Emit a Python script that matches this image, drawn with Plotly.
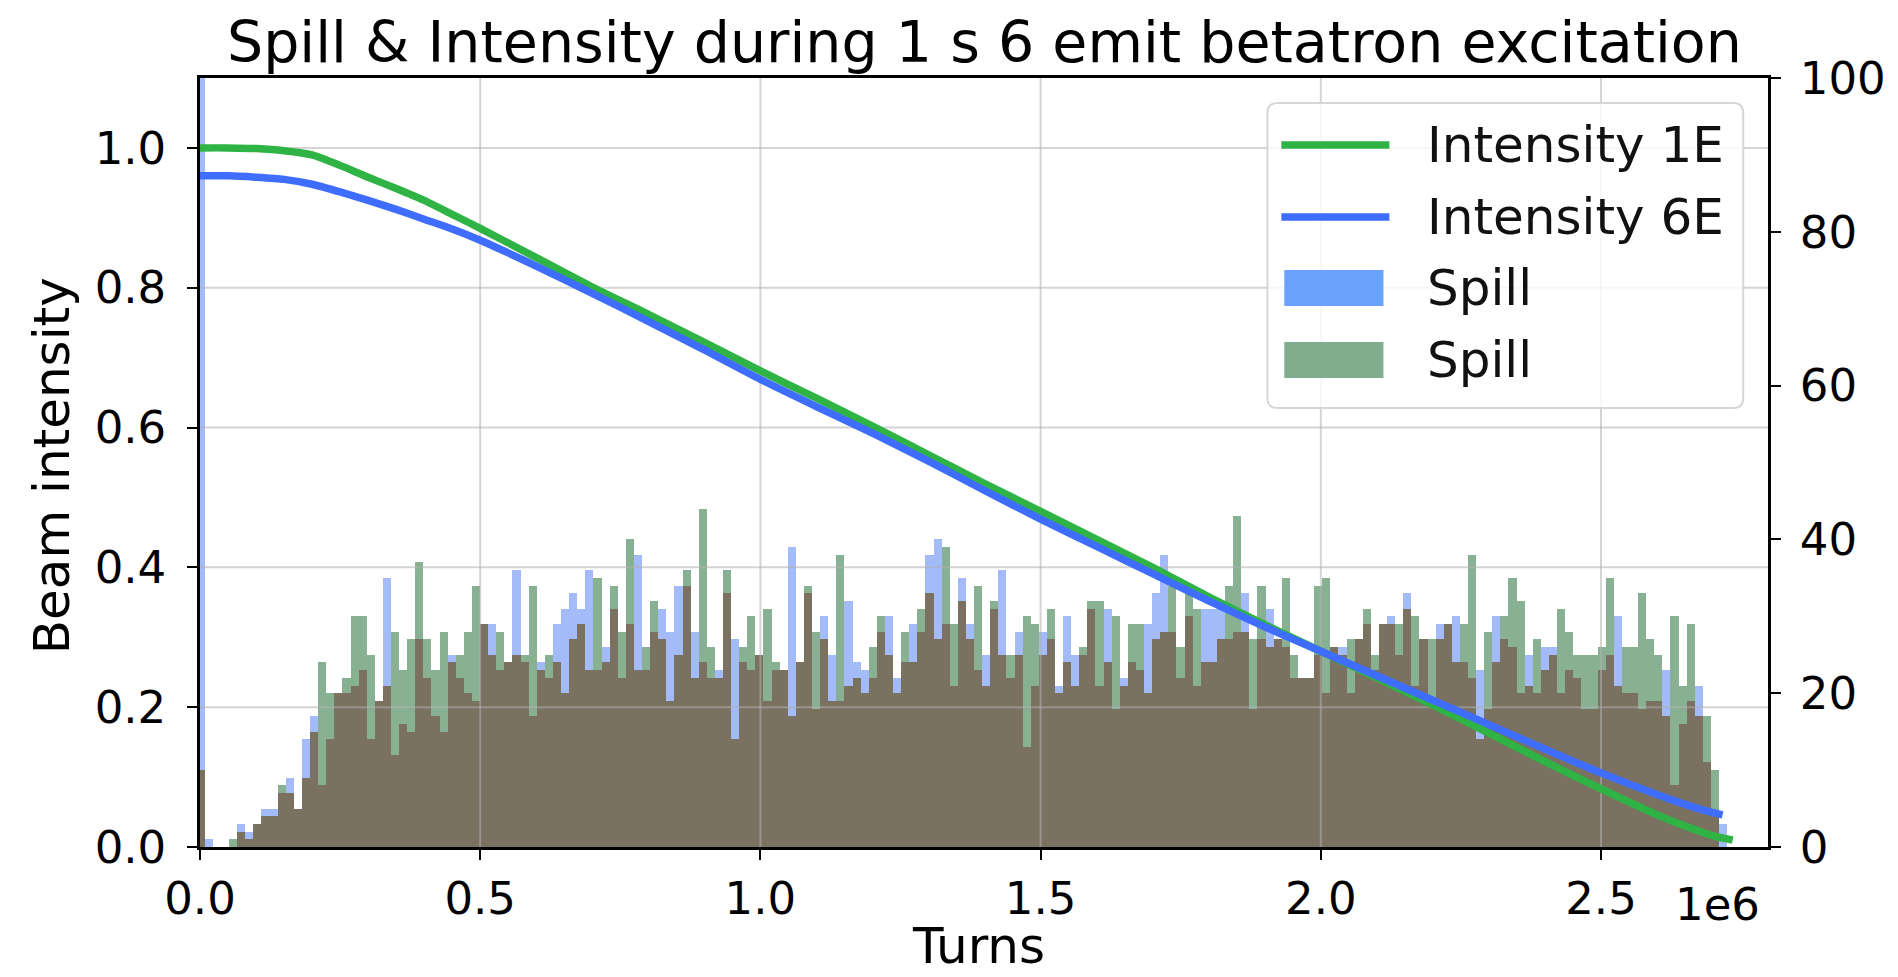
import numpy as np
import plotly.graph_objects as go

# ---------------- data ----------------
TITLE = "Spill & Intensity during 1 s 6 emit betatron excitation"
X_LABEL = "Turns"
Y_LABEL = "Beam intensity"
X_OFFSET_LABEL = "1e6"

X_RANGE = [0, 2798000]
X_TICK_VALUES = [0, 500000, 1000000, 1500000, 2000000, 2500000]
X_TICK_TEXT = ["0.0", "0.5", "1.0", "1.5", "2.0", "2.5"]
Y_LEFT_RANGE = [0, 1.1]
Y_LEFT_TICK_VALUES = [0, 0.2, 0.4, 0.6, 0.8, 1.0]
Y_LEFT_TICK_TEXT = ["0.0", "0.2", "0.4", "0.6", "0.8", "1.0"]
Y_RIGHT_RANGE = [0, 100]
Y_RIGHT_TICK_VALUES = [0, 20, 40, 60, 80, 100]
Y_RIGHT_TICK_TEXT = ["0", "20", "40", "60", "80", "100"]

LEGEND_LABELS = ["Intensity 1E", "Intensity 6E", "Spill", "Spill"]

# histogram bins (turns)
BIN_START = -6000
BIN_WIDTH = 14450

SPILL_6E = [150, 1, 0, 0, 0, 3, 2, 3, 5, 5,
            7, 9, 5, 14, 17, 8, 14, 20, 20, 21,
            23, 14, 19, 35, 12, 16, 15, 27, 22, 17,
            15, 25, 22, 20, 19, 29, 29, 23, 24, 36,
            24, 17, 24, 22, 29, 31, 33, 31, 36, 23,
            26, 31, 22, 29, 38, 23, 28, 31, 28, 34,
            34, 28, 24, 22, 23, 33, 27, 24, 23, 25,
            19, 23, 23, 39, 24, 33, 18, 30, 25, 19,
            32, 24, 23, 22, 28, 30, 22, 24, 29, 28,
            38, 40, 29, 21, 35, 29, 23, 25, 31, 36,
            22, 28, 13, 21, 28, 27, 21, 30, 25, 25,
            31, 21, 31, 18, 22, 24, 23, 29, 33, 38,
            28, 22, 30, 21, 31, 31, 31, 27, 28, 33,
            18, 27, 31, 27, 26, 22, 22, 22, 25, 20,
            26, 26, 20, 27, 29, 23, 29, 30, 25, 33,
            21, 27, 19, 29, 29, 30, 24, 22, 23, 18,
            30, 27, 26, 20, 25, 20, 26, 26, 20, 23,
            22, 18, 18, 23, 25, 30, 20, 20, 18, 19,
            19, 23, 8, 16, 19, 21, 11, 4, 3]

SPILL_1E = [10, 0, 0, 0, 1, 2, 1, 3, 4, 4,
            8, 7, 5, 9, 15, 24, 20, 20, 22, 30,
            30, 25, 19, 21, 28, 23, 27, 37, 27, 23,
            28, 24, 25, 28, 34, 29, 25, 28, 24, 25,
            25, 34, 23, 25, 24, 20, 27, 29, 23, 35,
            24, 34, 28, 40, 23, 26, 32, 27, 19, 25,
            36, 22, 44, 26, 22, 36, 14, 26, 30, 25,
            31, 24, 23, 17, 24, 34, 28, 27, 19, 38,
            21, 22, 20, 26, 30, 25, 20, 28, 24, 31,
            33, 27, 39, 29, 32, 27, 34, 21, 32, 25,
            25, 25, 30, 29, 25, 31, 20, 24, 21, 26,
            32, 32, 24, 30, 21, 29, 29, 20, 27, 28,
            34, 26, 33, 31, 24, 24, 27, 34, 43, 28,
            27, 34, 26, 27, 35, 25, 22, 22, 34, 35,
            26, 25, 27, 27, 31, 25, 29, 29, 29, 31,
            30, 27, 27, 27, 29, 24, 29, 38, 14, 28,
            24, 30, 35, 32, 21, 27, 23, 25, 31, 28,
            25, 25, 25, 26, 35, 21, 26, 26, 33, 27,
            25, 17, 30, 21, 29, 17, 17, 10, 0]

TURNS_1E = [0, 50000, 100000, 150000, 200000, 250000, 300000, 350000, 400000, 450000,
            500000, 600000, 700000, 800000, 900000, 1000000, 1100000, 1200000,
            1300000, 1400000, 1500000, 1600000, 1700000, 1800000, 1900000,
            2000000, 2100000, 2200000, 2300000, 2400000, 2500000, 2600000,
            2650000, 2700000, 2735000]
INTENSITY_1E = [1.0, 1.0, 0.999, 0.996, 0.99, 0.975, 0.958, 0.942, 0.925, 0.905,
                0.885, 0.843, 0.801, 0.762, 0.722, 0.681, 0.642, 0.602,
                0.561, 0.52, 0.48, 0.44, 0.40, 0.358, 0.318,
                0.28, 0.242, 0.203, 0.163, 0.122, 0.083, 0.046,
                0.03, 0.016, 0.01]

TURNS_6E = [0, 50000, 100000, 150000, 200000, 250000, 300000, 350000, 400000, 450000,
            500000, 600000, 700000, 800000, 900000, 1000000, 1100000, 1200000,
            1300000, 1400000, 1500000, 1600000, 1700000, 1800000, 1900000,
            2000000, 2100000, 2200000, 2300000, 2400000, 2500000, 2600000,
            2650000, 2700000, 2717000]
INTENSITY_6E = [0.96, 0.96, 0.958, 0.955, 0.948, 0.937, 0.925, 0.912, 0.898, 0.884,
                0.868, 0.831, 0.792, 0.752, 0.711, 0.669, 0.63, 0.592,
                0.552, 0.51, 0.469, 0.43, 0.391, 0.352, 0.315,
                0.28, 0.245, 0.21, 0.175, 0.14, 0.106, 0.075,
                0.061, 0.049, 0.046]

# ---------------- styles ----------------
FONT = "DejaVu Sans"
C_LINE_1E = "#2fb344"
C_LINE_6E = "#3f6dff"
C_BAR_BLUE = "#a3bbf8"
C_BAR_GREEN = "#88b193"
C_BAR_BOTH = "#7a7161"
C_PATCH_BLUE = "#69a1fc"
C_PATCH_GREEN = "#80ad8d"
GRID = "rgba(176,176,176,0.55)"

W, H = 1898, 977
ML, MR, MT, MB = 200, 116, 78, 130
PW, PH = W - ML - MR, H - MT - MB


def px_x(px):
    return (px - ML) / PW


def px_y(py):
    return (MT + PH - py) / PH


# ---------------- figure ----------------
edges = BIN_START + BIN_WIDTH * np.arange(len(SPILL_6E))
centers = edges + BIN_WIDTH / 2
blue = np.array(SPILL_6E, dtype=float)
green = np.array(SPILL_1E, dtype=float)
both = np.minimum(blue, green)

fig = go.Figure()
for vals, col in [(blue, C_BAR_BLUE), (green, C_BAR_GREEN), (both, C_BAR_BOTH)]:
    fig.add_trace(go.Bar(x=centers, y=vals, width=BIN_WIDTH, marker=dict(color=col, line=dict(width=0)),
                         yaxis="y", showlegend=False, hoverinfo="skip"))

# grid (drawn above bars, below lines, as in matplotlib)
gx, gy = [], []
for v in Y_LEFT_TICK_VALUES[1:]:
    gx += [X_RANGE[0], X_RANGE[1], None]
    gy += [v, v, None]
for v in X_TICK_VALUES[1:]:
    gx += [v, v, None]
    gy += [Y_LEFT_RANGE[0], Y_LEFT_RANGE[1], None]
fig.add_trace(go.Scatter(x=gx, y=gy, mode="lines", line=dict(color=GRID, width=2),
                         yaxis="y2", showlegend=False, hoverinfo="skip"))

fig.add_trace(go.Scatter(x=TURNS_1E, y=INTENSITY_1E, mode="lines",
                         line=dict(color=C_LINE_1E, width=7.5, shape="spline", smoothing=0.6),
                         yaxis="y2", name=LEGEND_LABELS[0], showlegend=False))
fig.add_trace(go.Scatter(x=TURNS_6E, y=INTENSITY_6E, mode="lines",
                         line=dict(color=C_LINE_6E, width=7.5, shape="spline", smoothing=0.6),
                         yaxis="y2", name=LEGEND_LABELS[1], showlegend=False))

tick_common = dict(ticks="outside", ticklen=10, tickwidth=2, tickcolor="black",
                   showline=True, linewidth=2.5, linecolor="black", showgrid=False, zeroline=False,
                   tickfont=dict(family=FONT, size=45, color="black"))

fig.update_layout(
    width=W, height=H, margin=dict(l=ML, r=MR, t=MT, b=MB),
    paper_bgcolor="white", plot_bgcolor="white",
    barmode="overlay", bargap=0,
    showlegend=False,
    xaxis=dict(range=X_RANGE, tickmode="array", tickvals=X_TICK_VALUES, ticktext=X_TICK_TEXT,
               mirror=True, ticklabelstandoff=0, **tick_common),
    yaxis=dict(range=Y_RIGHT_RANGE, side="right", tickmode="array", tickvals=Y_RIGHT_TICK_VALUES,
               ticktext=Y_RIGHT_TICK_TEXT, ticklabelstandoff=10, **tick_common),
    yaxis2=dict(range=Y_LEFT_RANGE, side="left", overlaying="y", tickmode="array",
                tickvals=Y_LEFT_TICK_VALUES, ticktext=Y_LEFT_TICK_TEXT, ticklabelstandoff=12, **tick_common),
)

# ---------------- texts ----------------
ann = []
ann.append(dict(text=TITLE, x=0.5, y=px_y(42), xref="paper", yref="paper", xanchor="center", yanchor="middle",
                showarrow=False, font=dict(family=FONT, size=57, color="black")))
ann.append(dict(text=Y_LABEL, x=px_x(51), y=px_y(466), xref="paper", yref="paper", textangle=-90,
                xanchor="center", yanchor="middle", showarrow=False, font=dict(family=FONT, size=50, color="black")))
ann.append(dict(text=X_LABEL, x=px_x(985), y=px_y(946), xref="paper", yref="paper", xanchor="center",
                yanchor="middle", showarrow=False, font=dict(family=FONT, size=50, color="black")))
ann.append(dict(text=X_OFFSET_LABEL, x=px_x(1776), y=px_y(904), xref="paper", yref="paper", xanchor="right",
                yanchor="middle", showarrow=False, font=dict(family=FONT, size=45, color="black")))

# ---------------- legend (matplotlib style) ----------------
shapes = []
lx0, lx1, ly0, ly1, r = 1277, 1757, 103, 408, 10
path = (f"M {px_x(lx0 + r)},{px_y(ly0)} L {px_x(lx1 - r)},{px_y(ly0)} "
        f"Q {px_x(lx1)},{px_y(ly0)} {px_x(lx1)},{px_y(ly0 + r)} "
        f"L {px_x(lx1)},{px_y(ly1 - r)} Q {px_x(lx1)},{px_y(ly1)} {px_x(lx1 - r)},{px_y(ly1)} "
        f"L {px_x(lx0 + r)},{px_y(ly1)} Q {px_x(lx0)},{px_y(ly1)} {px_x(lx0)},{px_y(ly1 - r)} "
        f"L {px_x(lx0)},{px_y(ly0 + r)} Q {px_x(lx0)},{px_y(ly0)} {px_x(lx0 + r)},{px_y(ly0)} Z")
shapes.append(dict(type="path", path=path, xref="paper", yref="paper", layer="above",
                   fillcolor="rgba(255,255,255,0.8)", line=dict(color="#d6d6d6", width=2)))
row_y = [145, 217, 288, 360]
shapes.append(dict(type="line", x0=px_x(1291), x1=px_x(1400), y0=px_y(row_y[0]), y1=px_y(row_y[0]),
                   xref="paper", yref="paper", layer="above", line=dict(color=C_LINE_1E, width=7.5)))
shapes.append(dict(type="line", x0=px_x(1291), x1=px_x(1400), y0=px_y(row_y[1]), y1=px_y(row_y[1]),
                   xref="paper", yref="paper", layer="above", line=dict(color=C_LINE_6E, width=7.5)))
for yy, col in [(row_y[2], C_PATCH_BLUE), (row_y[3], C_PATCH_GREEN)]:
    shapes.append(dict(type="rect", x0=px_x(1294), x1=px_x(1394), y0=px_y(yy - 18), y1=px_y(yy + 18),
                       xref="paper", yref="paper", layer="above", fillcolor=col, line=dict(width=0)))
for yy, lab in zip(row_y, LEGEND_LABELS):
    ann.append(dict(text=lab, x=px_x(1436), y=px_y(yy), xref="paper", yref="paper", xanchor="left",
                    yanchor="middle", showarrow=False, font=dict(family=FONT, size=50, color="#111111")))

fig.update_layout(annotations=ann, shapes=shapes)
fig.write_html("out.html")
